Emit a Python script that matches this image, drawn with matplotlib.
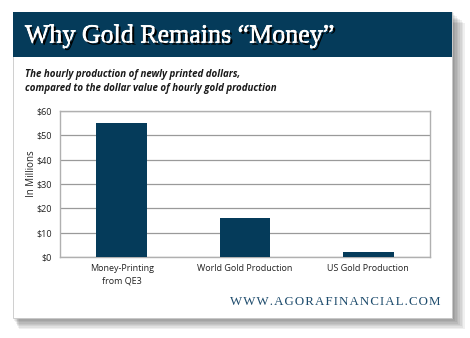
import matplotlib
matplotlib.use('Agg')
from matplotlib import pyplot as plt
from matplotlib.patches import Rectangle
import matplotlib.patheffects as pe

categories = ['Money-Printing\nfrom QE3', 'World Gold Production', 'US Gold Production']
values = [55.0, 15.9, 2.2]
yticks = [0, 10, 20, 30, 40, 50, 60]
ytick_labels = ['$0', '$10', '$20', '$30', '$40', '$50', '$60']

W, H = 470, 338
NAVY = '#053b5a'


def fx(x):
    return x / W


def fy(y):
    return 1 - y / H


fig = plt.figure(figsize=(W / 100, H / 100), dpi=100)
fig.patch.set_facecolor('white')

# soft drop shadow behind the card
for i in range(8, 0, -1):
    fig.add_artist(Rectangle((fx(13 + i * 0.7), fy(318 + i * 1.4)), (439 + i * 0.9) / W, (306) / H,
                             transform=fig.transFigure, facecolor='black', alpha=0.06,
                             edgecolor='none', zorder=0))
# card
fig.add_artist(Rectangle((fx(13), fy(318)), 439 / W, 306 / H, transform=fig.transFigure,
                         facecolor='white', edgecolor='#c8c8c8', lw=0.6, zorder=1))
# header band
fig.add_artist(Rectangle((fx(13), fy(57)), 439 / W, 45 / H, transform=fig.transFigure,
                         facecolor=NAVY, edgecolor='none', zorder=2))

fig.text(fx(25), fy(42.5), 'Why Gold Remains \u201cMoney\u201d', color='white',
         family='Liberation Serif', fontsize=18.7, weight='normal', zorder=3,
         path_effects=[pe.withStroke(linewidth=0.6, foreground='white'),
                       pe.withSimplePatchShadow(offset=(1.5, -1.5), shadow_rgbFace='black', alpha=1)])

fig.text(fx(25), fy(76.5), 'The hourly production of newly printed dollars,', color='#1a1a1a',
         family='Open Sans', fontsize=7, weight='bold', style='italic', zorder=3)
fig.text(fx(25), fy(91), 'compared to the dollar value of hourly gold production', color='#1a1a1a',
         family='Open Sans', fontsize=7, weight='bold', style='italic', zorder=3)

ax = fig.add_axes([fx(60), fy(257), 370 / W, 146 / H], zorder=4)
ax.set_facecolor('white')
x = list(range(len(categories)))
ax.bar(x, values, width=0.41, color=NAVY, zorder=3)
ax.set_xlim(-0.5, 2.5)
ax.set_ylim(0, 60)
ax.set_yticks(yticks)
ax.set_yticklabels(ytick_labels, family='Open Sans', fontsize=6.5, color='#222222')
ax.set_xticks(x)
ax.set_xticklabels(categories, family='Open Sans', fontsize=6.5, color='#222222', linespacing=1.5)
ax.tick_params(length=0, pad=6)
ax.tick_params(axis='x', pad=5)
ax.yaxis.grid(True, color='#9a9a9a', lw=0.9, zorder=0)
for s in ax.spines.values():
    s.set_color('#b0b0b0')
    s.set_linewidth(1.0)
ax.set_ylabel('In Millions', family='Open Sans', fontsize=7, color='#222222')
ax.yaxis.set_label_coords(-0.062, 0.57)

fig.text(fx(440), fy(302), 'W W W . A G O R A F I N A N C I A L . C O M'.replace(' ', '\u200a'),
         color='#1d4b6c', family='Liberation Serif', fontsize=9.3, ha='right', va='center', zorder=3)

plt.savefig('out.png', dpi=100)
